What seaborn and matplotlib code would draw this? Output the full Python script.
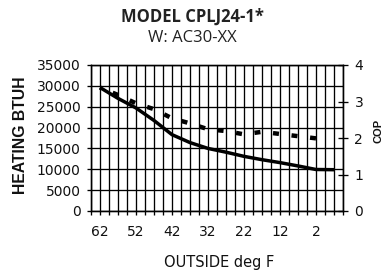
import matplotlib
matplotlib.use("Agg")
import matplotlib.pyplot as plt
import seaborn as sns
import numpy as np
import pandas as pd
from matplotlib.ticker import FixedLocator

# ---- data ----
temps_btuh = [62, 57, 52, 47, 42, 37, 32, 27, 22, 17, 12, 7, 2, -3]
heating_btuh = [29600, 27000, 24700, 21700, 18300, 16400, 15000, 14100, 13100, 12300, 11600, 10800, 9950, 9900]
temps_cop = [62, 57, 52, 47, 42, 37, 32, 27, 22, 17, 12, 7, 2]
cop = [3.38, 3.18, 2.95, 2.79, 2.54, 2.40, 2.24, 2.19, 2.10, 2.17, 2.11, 2.05, 1.99]
x_tick_labels = [62, 52, 42, 32, 22, 12, 2]
y_ticks_btuh = [0, 5000, 10000, 15000, 20000, 25000, 30000, 35000]
y_ticks_cop = [0, 1, 2, 3, 4]
title_line1 = "MODEL CPLJ24-1*"
title_line2 = "W: AC30-XX"

df_btuh = pd.DataFrame({"temp": temps_btuh, "btuh": heating_btuh})
df_cop = pd.DataFrame({"temp": temps_cop, "cop": cop})

sns.set_style("white")
plt.rcParams["font.family"] = ["DejaVu Sans"]

W, H = 384, 273
fig = plt.figure(figsize=(W / 100, H / 100), dpi=100)
L, R, T, B = 91, 343, 65, 211
ax = fig.add_axes([L / W, 1 - B / H, (R - L) / W, (B - T) / H])

sns.lineplot(data=df_btuh, x="temp", y="btuh", ax=ax, color="black", lw=2.5,
             solid_capstyle="butt", zorder=5)
ax2 = ax.twinx()
sns.lineplot(data=df_cop, x="temp", y="cop", ax=ax2, color="black", lw=3.2,
             dashes=False, zorder=5)
ax2.lines[0].set_dashes((1.35, 2.85))
ax2.lines[0].set_dash_capstyle("butt")

ax.set_xlim(64.5, -5.5)
ax.set_ylim(0, 35000)
ax2.set_ylim(0, 4)

ax.xaxis.set_major_locator(FixedLocator(x_tick_labels))
ax.set_xticklabels([str(v) for v in x_tick_labels])
ax.xaxis.set_minor_locator(FixedLocator(list(np.arange(64.5, -5.6, -2.5))))
ax.set_yticks(y_ticks_btuh)
ax.set_yticklabels([str(v) for v in y_ticks_btuh])
ax2.set_yticks(y_ticks_cop)
ax2.set_yticklabels([str(v) for v in y_ticks_cop])

ax.grid(True, which="both", color="black", lw=0.95)
ax.set_axisbelow(True)

ax.tick_params(axis="x", which="both", direction="out", length=3, width=0.95,
               color="black", bottom=True, pad=7.0, labelsize=10, labelcolor="#111111")
ax.tick_params(axis="y", which="major", direction="out", length=3, width=0.95,
               color="black", left=True, pad=4.5, labelsize=10, labelcolor="#111111")
ax2.tick_params(axis="y", direction="inout", length=6.5, width=0.95, color="black",
                right=True, pad=5.0, labelsize=10, labelcolor="#111111")

for a in (ax, ax2):
    for s in a.spines.values():
        s.set_color("black")
        s.set_linewidth(0.95)

ax.set_xlabel("OUTSIDE deg F", fontsize=10.5, color="#111111")
ax.xaxis.set_label_coords(0.51, -(267 - B) / (B - T))
ax.xaxis.label.set_va("baseline")

ax.set_ylabel("HEATING BTUH", fontsize=11.3, fontweight="bold",
              family=["Liberation Sans", "DejaVu Sans"], color="#111111")
ax.yaxis.set_label_coords((20.8 - L) / (R - L), (B - 135) / (B - T))
ax.yaxis.label.set_va("center")

ax2.set_ylabel("COP", fontsize=8, fontweight="bold",
               family=["Liberation Sans", "DejaVu Sans"], color="#111111")
ax2.yaxis.set_label_coords((379 - L) / (R - L), (B - 131) / (B - T))
ax2.yaxis.label.set_va("center")

fig.text(192 / W, 1 - 21.7 / H, title_line1, ha="center", va="baseline",
         fontsize=12, fontweight="bold", family=["Open Sans", "DejaVu Sans"], color="#222222")
fig.text(192 / W, 1 - 41.7 / H, title_line2, ha="center", va="baseline",
         fontsize=12, family=["Open Sans", "DejaVu Sans"], color="#222222")

fig.savefig("out.png", dpi=100)
